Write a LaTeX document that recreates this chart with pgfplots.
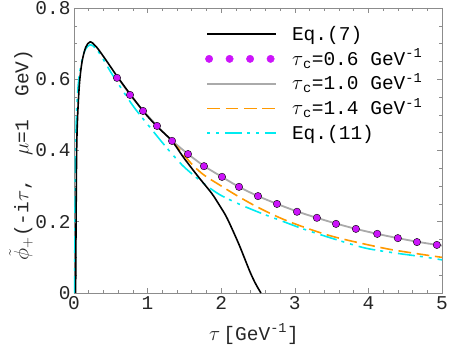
\documentclass[border=0pt]{standalone}
\usepackage{pgfplots}
\pgfplotsset{compat=1.18}
\usepackage{fontspec}
\setmainfont{Liberation Mono}

\definecolor{dotpurple}{RGB}{204,20,250}
\definecolor{curveorange}{RGB}{255,153,0}
\definecolor{curvecyan}{RGB}{0,235,240}
\definecolor{curvegray}{RGB}{170,170,170}
\definecolor{framegray}{RGB}{140,140,140}

\begin{document}
\begin{tikzpicture}
\begin{axis}[
    scale only axis,
    width=368pt, height=285pt,
    xmin=0, xmax=5, ymin=0, ymax=0.8,
    xtick={0,1,2,3,4,5},
    ytick={0,0.2,0.4,0.6,0.8},
    minor x tick num=4,
    minor y tick num=3,
    major tick length=5.5pt,
    minor tick length=3pt,
    tick style={framegray, line width=0.6pt},
    axis line style={framegray, line width=0.8pt},
    /pgf/number format/assume math mode=true,
    /pgf/number format/fixed,
    tick label style={font=\fontsize{19.5}{23}\selectfont, black!85},
    label style={font=\fontsize{19.5}{23}\selectfont, black!85},
    xlabel={$\tau$\,[GeV\textsuperscript{-1}]},
    ylabel={$\tilde{\phi}_{+}$(-i$\tau$,~~$\mu$=1~~GeV)},
    xlabel style={at={(axis description cs:0.489,-0.144)}, anchor=center},
    ylabel style={at={(axis description cs:-0.144,0.484)}, anchor=center},
    legend image code/.code={\draw[#1] (0pt,0pt) -- (69pt,0pt);},
    legend cell align=left,
    legend style={
        at={(axis description cs:0.356,0.945)}, anchor=north west,
        draw=none, fill=none, inner sep=0pt, row sep=4.25pt,
        font=\fontsize{19.5}{23}\selectfont,
        nodes={inner sep=0pt, text height=16.5pt, text depth=4pt},
        /tikz/every odd column/.append style={column sep=15pt},
    },
]

% legend entries, in the order of the reference
\addlegendimage{black, line width=1.6pt}
\addlegendentry{Eq.(7)}
\addlegendimage{legend image code/.code={
    \foreach \xx in {2,22.5,43,63.5} {\fill[dotpurple] (\xx pt,0pt) circle (3.7pt);}}}
\addlegendentry{$\tau$\textsubscript{c}=0.6 GeV\textsuperscript{-1}}
\addlegendimage{curvegray, line width=1.8pt}
\addlegendentry{$\tau$\textsubscript{c}=1.0 GeV\textsuperscript{-1}}
\addlegendimage{curveorange, line width=1.6pt, dash pattern=on 12.7pt off 5.7pt}
\addlegendentry{$\tau$\textsubscript{c}=1.4 GeV\textsuperscript{-1}}
\addlegendimage{curvecyan, line width=1.6pt, dash pattern=on 3pt off 6pt on 3pt off 6pt on 17pt off 5pt}
\addlegendentry{Eq.(11)}

% tau_c = 1.0
\addplot[curvegray, line width=1.8pt, smooth, forget plot] coordinates {
(0.6,0.604) (0.76,0.557) (0.94,0.512) (1.13,0.469) (1.33,0.428) (1.55,0.39)
(1.77,0.356) (2.01,0.326) (2.24,0.298) (2.5,0.272) (2.76,0.25) (3.03,0.229)
(3.3,0.211) (3.56,0.195) (3.83,0.18) (4.12,0.166) (4.4,0.154) (4.66,0.144)
(4.93,0.135) (5,0.133)};

% tau_c = 1.4
\addplot[curveorange, line width=1.6pt, dash pattern=on 12.7pt off 5.7pt, smooth, forget plot] coordinates {
(1.33,0.427) (1.45,0.398) (1.6,0.362) (1.76,0.332) (1.98,0.303) (2.2,0.275)
(2.43,0.248) (2.66,0.224) (2.89,0.203) (3.19,0.18) (3.51,0.159) (3.87,0.141)
(4.28,0.123) (4.64,0.111) (5.0,0.1)};

% Eq.(11)
\addplot[curvecyan, line width=1.6pt, dash pattern=on 17pt off 5pt on 3pt off 6pt on 3pt off 6pt, smooth, forget plot] coordinates {
(0.008,0) (0.013,0.2) (0.02,0.38) (0.034,0.5) (0.06,0.59) (0.1,0.645)
(0.15,0.682) (0.22,0.697) (0.3,0.686) (0.4,0.655) (0.5,0.62) (0.6,0.588)
(0.81,0.523) (1.04,0.463) (1.27,0.405) (1.49,0.355) (1.76,0.308) (1.98,0.276)
(2.25,0.249) (2.53,0.225) (2.8,0.204) (3.07,0.183) (3.3,0.167) (3.56,0.15)
(3.96,0.126) (4.37,0.112) (4.73,0.102) (5.0,0.093)};

% Eq.(7)
\addplot[black, line width=1.6pt, smooth, forget plot] coordinates {
(0.022,0) (0.028,0.2) (0.036,0.4) (0.05,0.5) (0.075,0.59) (0.11,0.65)
(0.16,0.69) (0.22,0.705) (0.3,0.692) (0.4,0.664) (0.5,0.634) (0.6,0.604)
(0.8,0.548) (0.97,0.503) (1.13,0.467) (1.33,0.427) (1.49,0.38) (1.69,0.326)
(1.87,0.28) (1.98,0.245) (2.08,0.21) (2.24,0.137) (2.39,0.06) (2.47,0.025)
(2.54,0)};

% tau_c = 0.6 (dots)
\addplot[only marks, mark=*, mark size=3.7pt, mark options={draw=none, fill=dotpurple}, forget plot] coordinates {
(0.584,0.604) (0.761,0.556) (0.938,0.511) (1.128,0.469) (1.332,0.427)
(1.549,0.39) (1.766,0.356) (2.011,0.326) (2.242,0.298) (2.5,0.272)
(2.758,0.25) (3.03,0.228) (3.3,0.211) (3.56,0.194) (3.83,0.18)
(4.12,0.166) (4.4,0.154) (4.66,0.143) (4.93,0.135)};

\end{axis}
\pgfresetboundingbox
\path (-74pt,-52pt) rectangle (375pt,293pt);
\end{tikzpicture}
\end{document}
